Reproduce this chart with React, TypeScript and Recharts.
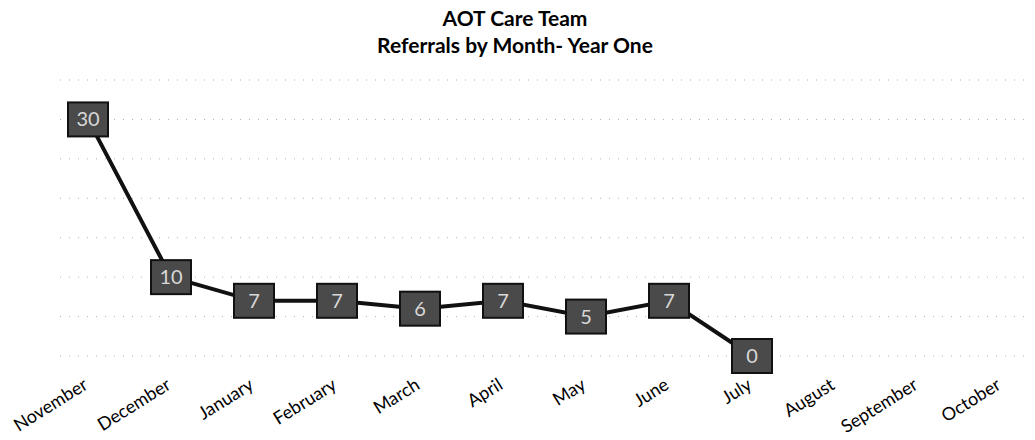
import React from "react";
import { LineChart, Line, XAxis, YAxis, CartesianGrid } from "recharts";

const months = ["November", "December", "January", "February", "March", "April", "May", "June", "July", "August", "September", "October"];
const referrals: (number | null)[] = [30, 10, 7, 7, 6, 7, 5, 7, 0, null, null, null];
const yTicks = [0, 5, 10, 15, 20, 25, 30, 35];
const titleLines = ["AOT Care Team", "Referrals by Month- Year One"];

const data = months.map((m, i) => ({ month: m, value: referrals[i] }));

const MonthTick = (props: any) => {
  const { x, y, payload } = props;
  const bx = x + 1;
  const by = y + 24;
  return (
    <text
      x={bx}
      y={by}
      transform={`rotate(-32, ${bx}, ${by})`}
      textAnchor="end"
      fontFamily="Lato, 'Open Sans', sans-serif"
      fontSize={18}
      fill="#000"
    >
      {payload.value}
    </text>
  );
};

const BoxDot = (props: any) => {
  const { cx, cy, value, index } = props;
  if (value === null || value === undefined || cx == null || cy == null) return <g key={`d${index}`} />;
  return (
    <g key={`d${index}`}>
      <rect x={cx - 20} y={cy - 17} width={40} height={34} fill="#4a4a4a" stroke="#111" strokeWidth={2} />
      <text x={cx} y={cy + 7} textAnchor="middle" fontFamily="Lato, sans-serif" fontSize={20} fill="#d8d8d8">
        {value}
      </text>
    </g>
  );
};

export default function App() {
  return (
    <div style={{ position: "absolute", left: 0, top: 0, width: 1035, height: 440, background: "#fff" }}>
      <div
        style={{
          position: "absolute",
          left: 0,
          top: 4,
          width: 1030,
          textAlign: "center",
          fontFamily: "Lato, 'Open Sans', sans-serif",
          fontWeight: 700,
          fontSize: 21,
          lineHeight: "27px",
          color: "#000",
        }}
      >
        {titleLines.map((t) => (
          <div key={t}>{t}</div>
        ))}
      </div>
      <LineChart width={1035} height={440} data={data} margin={{ top: 80, right: 5, left: 60, bottom: 0 }}>
        <CartesianGrid vertical={false} stroke="#b0b0b0" strokeDasharray="1 8" />
        <XAxis
          dataKey="month"
          scale="point"
          padding={{ left: 28, right: 29 }}
          axisLine={false}
          tickLine={false}
          height={84}
          interval={0}
          tick={<MonthTick />}
        />
        <YAxis hide domain={[0, 35]} ticks={yTicks} />
        <Line
          type="linear"
          dataKey="value"
          stroke="#111"
          strokeWidth={4}
          dot={BoxDot}
          activeDot={false}
          connectNulls={false}
          isAnimationActive={false}
        />
      </LineChart>
    </div>
  );
}
